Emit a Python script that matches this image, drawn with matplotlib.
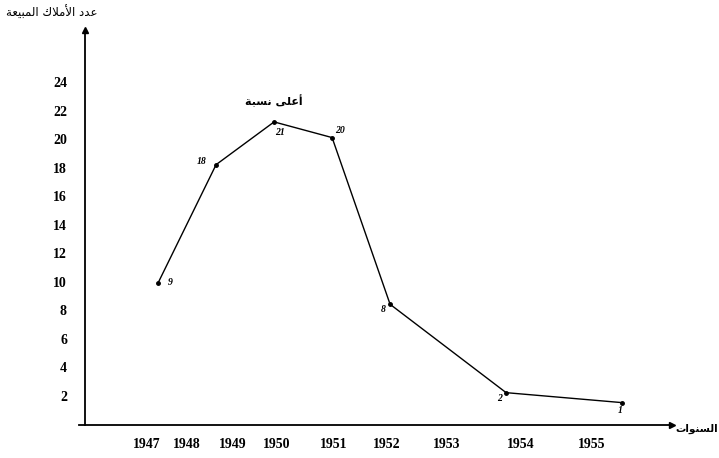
import matplotlib
matplotlib.use("Agg")
import matplotlib.pyplot as plt

# ---------------- data ----------------
years = [1947, 1948, 1949, 1950, 1951, 1953, 1955]
heights = [9.9, 18.2, 21.2, 20.1, 8.4, 2.2, 1.5]        # as drawn on the chart
point_labels = ["9", "18", "21", "20", "8", "2", "1"]   # handwritten values
ytick_values = [2, 4, 6, 8, 10, 12, 14, 16, 18, 20, 22, 24]
xtick_labels = ["1947", "1948", "1949", "1950", "1951", "1952", "1953", "1954", "1955"]
xtick_positions = [1946.81, 1947.5, 1948.28, 1949.05, 1950.02, 1950.95, 1951.97, 1953.26, 1954.47]
ylabel_text = "عدد الأملاك المبيعة"
xlabel_text = "السنوات"
peak_text = "أعلى نسبة"

# ------------- minimal Arabic shaping (presentation forms) -------------
FORMS = {  # iso, fin, ini, med (None => right-joining only)
    'ا': ('\uFE8D', '\uFE8E', None, None),
    'أ': ('\uFE83', '\uFE84', None, None),
    'ب': ('\uFE8F', '\uFE90', '\uFE91', '\uFE92'),
    'ت': ('\uFE95', '\uFE96', '\uFE97', '\uFE98'),
    'ة': ('\uFE93', '\uFE94', None, None),
    'د': ('\uFEA9', '\uFEAA', None, None),
    'س': ('\uFEB1', '\uFEB2', '\uFEB3', '\uFEB4'),
    'ع': ('\uFEC9', '\uFECA', '\uFECB', '\uFECC'),
    'ك': ('\uFED9', '\uFEDA', '\uFEDB', '\uFEDC'),
    'ل': ('\uFEDD', '\uFEDE', '\uFEDF', '\uFEE0'),
    'م': ('\uFEE1', '\uFEE2', '\uFEE3', '\uFEE4'),
    'ن': ('\uFEE5', '\uFEE6', '\uFEE7', '\uFEE8'),
    'ه': ('\uFEE9', '\uFEEA', '\uFEEB', '\uFEEC'),
    'و': ('\uFEED', '\uFEEE', None, None),
    'ى': ('\uFEEF', '\uFEF0', None, None),
    'ي': ('\uFEF1', '\uFEF2', '\uFEF3', '\uFEF4'),
    'لا': ('\uFEFB', '\uFEFC', None, None),
    'لأ': ('\uFEF7', '\uFEF8', None, None),
}


def shape(text):
    units = []
    i = 0
    while i < len(text):
        if text[i] == 'ل' and i + 1 < len(text) and text[i + 1] in 'اأ':
            units.append(text[i:i + 2])
            i += 2
        else:
            units.append(text[i])
            i += 1
    out = []
    for k, u in enumerate(units):
        if u not in FORMS:
            out.append(u)
            continue
        prev = units[k - 1] if k > 0 else None
        nxt = units[k + 1] if k + 1 < len(units) else None
        joins_prev = prev in FORMS and FORMS[prev][2] is not None
        dual = FORMS[u][2] is not None
        joins_next = dual and nxt in FORMS
        iso, fin, ini, med = FORMS[u]
        if joins_prev and joins_next:
            out.append(med)
        elif joins_prev:
            out.append(fin)
        elif joins_next:
            out.append(ini)
        else:
            out.append(iso)
    return ''.join(out)[::-1]


# ---------------- figure ----------------
W, H = 719, 458
fig = plt.figure(figsize=(W / 100, H / 100), dpi=100)
L, R, B, T = 85, 672, 425, 30
ax = fig.add_axes([L / W, (H - B) / H, (R - L) / W, (B - T) / H])
ax.set_xlim(1945.74, 1955.86)
ax.set_ylim(-0.07, 27.65)

serif = "Liberation Serif"

ax.plot(years, heights, color="black", lw=1.0, marker="o", ms=2.5,
        solid_joinstyle="miter")

offsets = [(12, 0), (-14, 3), (6, -11), (8, 7), (-7, -5), (-7, -6), (-2, -8)]
for x, y, t, off in zip(years, heights, point_labels, offsets):
    ax.annotate(t, (x, y), xytext=off, textcoords="offset pixels",
                ha="center", va="center", fontsize=7, fontstyle="italic",
                fontweight="bold", family=serif)

for s in ["top", "right"]:
    ax.spines[s].set_visible(False)
for s in ["left", "bottom"]:
    ax.spines[s].set_linewidth(1.3)
    ax.spines[s].set_color("black")
ax.spines["bottom"].set_bounds(1945.64, 1955.86)

# arrow heads
ax.plot(1, 0, marker=">", color="black", ms=5, transform=ax.transAxes, clip_on=False)
ax.plot(0, 1, marker="^", color="black", ms=4, transform=ax.transAxes, clip_on=False)

ax.set_yticks(ytick_values)
ax.set_yticklabels([str(v) for v in ytick_values], family=serif,
                   fontweight="bold", fontsize=10)
ax.set_xticks(xtick_positions)
ax.set_xticklabels(xtick_labels, family=serif, fontweight="bold", fontsize=10)
ax.tick_params(axis="y", length=0, pad=13)
ax.tick_params(axis="x", length=0, pad=9)

# texts
fig.text(52 / W, 1 - 13 / H, shape(ylabel_text), ha="center", va="center",
         fontsize=8.5, family="DejaVu Sans")
fig.text(697 / W, 1 - 429 / H, shape(xlabel_text), ha="center", va="center",
         fontsize=7.5, family="DejaVu Sans", fontweight="bold")
fig.text(274 / W, 1 - 101 / H, shape(peak_text), ha="center", va="center",
         fontsize=8, family="DejaVu Sans", fontweight="bold")

fig.savefig("out.png", dpi=100)
